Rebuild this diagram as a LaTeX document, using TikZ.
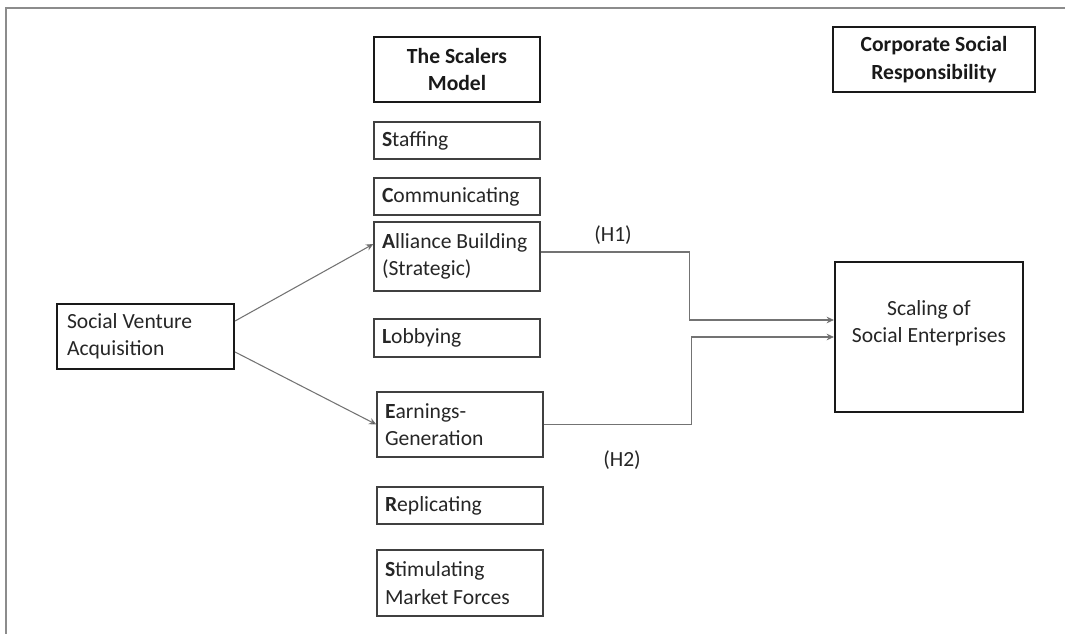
\documentclass[tikz,border=0pt]{standalone}
\usepackage{fontspec}
\setmainfont{Carlito}
\usetikzlibrary{calc}
\usetikzlibrary{arrows.meta}

\tikzset{
  stepbox/.style={draw=black!75, line width=1pt, text=black!85, inner xsep=6pt,
    text width=112.5pt, align=flush left, minimum height=#1},
  headbox/.style={draw=black!90, line width=1.6pt, text=black!90, align=center,
    font=\fontsize{16.2}{20.5}\selectfont\bfseries, minimum height=48.75pt},
  mainbox/.style={draw=black!90, line width=1.6pt, text=black!85},
  link/.style={draw=black!55, line width=0.8pt, -{Stealth[length=5.5pt,width=5pt,fill=black]}}
}

\begin{document}
\begin{tikzpicture}[x=0.75pt, y=-0.75pt, font=\fontsize{16.2}{20.5}\selectfont]
                \useasboundingbox (0,0) rectangle (1065,634);

                % Frame
                \draw[black!45, line width=1.5pt] (6,634) -- (6,8) -- (1065,8);

                % Headings
                \node[headbox, minimum width=124.5pt] (model) at (457,69.5) {The Scalers\\Model};
                \node[headbox, minimum width=151.5pt] (csr) at (934,59.5) {Corporate Social\\Responsibility};

                % The SCALERS drivers
                \node[stepbox=27.75pt] (staff) at (457,140.5) {\textbf{S}taffing};
                \node[stepbox=27.75pt] (comm) at (457,196.5) {\textbf{C}ommunicating};
                \node[stepbox=51.75pt] (alli) at (457,256.5) {\textbf{A}lliance Building\\(Strategic)};
                \node[stepbox=28.5pt] (lobb) at (457,338) {\textbf{L}obbying};
                \node[stepbox=48.75pt] (earn) at (460,424.5) {\textbf{E}arnings-\\Generation};
                \node[stepbox=27.75pt] (repl) at (460,505.5) {\textbf{R}eplicating};
                \node[stepbox=49.5pt] (stim) at (460,583) {\textbf{S}timulating\\Market Forces};

                % Input and outcome
                \node[mainbox, inner xsep=7.5pt, text width=117.75pt, align=flush left,
                  minimum height=48.75pt] (sva) at (145.5,336.5) {Social Venture\\Acquisition};
                \node[mainbox, minimum width=141pt, minimum height=112.5pt,
                  label={[align=center, text=black!85, yshift=10.5pt]center:Scaling of\\Social Enterprises}]
                  (scal) at (929,337) {};

                % Connectors
                \draw[link] ($(sva.east)+(0,-15.5)$) -- ($(alli.west)+(0,-12.5)$);
                \draw[link] ($(sva.east)+(0,15.5)$) -- (earn.west);
                \draw[link] ($(alli.east)+(0,-4.5)$) -- ++(149,0) |- ($(scal.west)+(0,-17)$);
                \draw[link] (earn.east) -- ++(148,0) |- (scal.west);

                % Hypotheses
                \node[text=black!85] (h1) at (613,235) {(H1)};
                \node[text=black!85] (h2) at (622,460) {(H2)};
            \end{tikzpicture}
\end{document}
